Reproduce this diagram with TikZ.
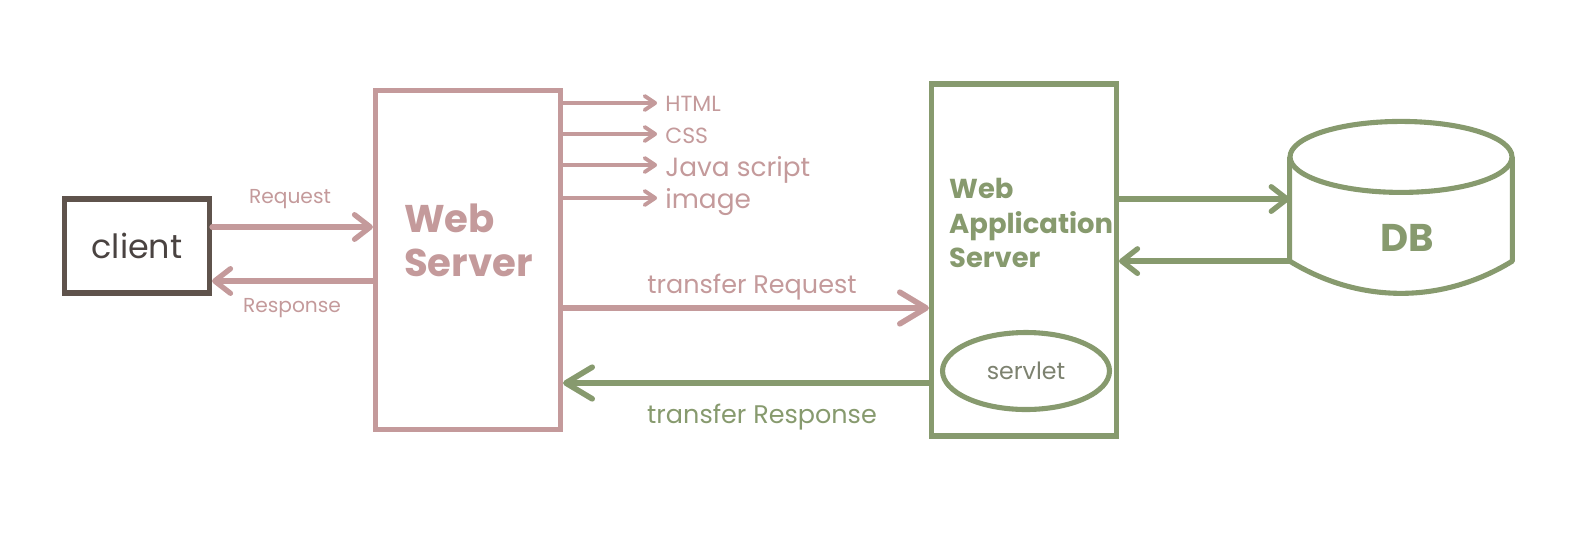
\documentclass[tikz,border=0pt]{standalone}
\usepackage{fontspec}
\setmainfont{Poppins}
\usepackage{xcolor}
\usetikzlibrary{arrows.meta,shapes.geometric,calc}
\definecolor{SrvPink}{HTML}{C49A9B}
\definecolor{AppGreen}{HTML}{879A6E}
\definecolor{CliBrown}{HTML}{5F534C}
\definecolor{CliText}{HTML}{4A4341}
\definecolor{LetGray}{HTML}{7D8270}
\newcommand{\setsz}[2]{\fontsize{#1}{#2}\selectfont}

\begin{document}
\begin{tikzpicture}[x=0.02cm,y=-0.02cm,
  box/.style={draw,line width=2.9pt,inner sep=0pt},
  link/.style={line width=3pt,line cap=round,-{Straight Barb[length=9pt,width=14pt,round]}},
  biglink/.style={line width=3.2pt,line cap=round,-{Straight Barb[length=15pt,width=18pt,round]}},
  smalllink/.style={line width=2.2pt,line cap=round,-{Straight Barb[length=6pt,width=8pt,round]},shorten >=4.5pt},
  lbl/.style={anchor=base,inner sep=0pt},
  item/.style={anchor=base west,inner sep=0pt,text=SrvPink}]

\useasboundingbox (0,0) rectangle (1592,542);

% ================= the boxes =================
\node[box,draw=CliBrown,text=CliText,minimum width=2.9cm,minimum height=1.88cm,
  font=\setsz{19}{23}] (client) at (137,246) {client};
\node[box,draw=SrvPink,minimum width=3.7cm,minimum height=6.78cm] (web) at (468,260) {};
\node[anchor=west,align=left,text=SrvPink,font=\bfseries\setsz{22}{25}] (webtxt)
  at (398,240) {Web\\Server};
\node[box,draw=AppGreen,minimum width=3.7cm,minimum height=7.04cm] (was) at (1024,260) {};
\node[anchor=west,align=left,text=AppGreen,font=\bfseries\setsz{15.6}{19.6}] (wastxt)
  at (943,223) {Web\\Application\\Server};
\node[ellipse,draw=AppGreen,line width=2.9pt,inner sep=0pt,minimum width=3.34cm,
  minimum height=1.54cm,text=LetGray,font=\setsz{13.5}{16}] (servlet) at (1026,371) {servlet};

% DB drum
\node[inner sep=0pt,minimum width=4.44cm,minimum height=2.07cm] (db) at (1401,209) {};
\draw[AppGreen,line width=2.9pt] (db.north) ellipse [x radius=2.22cm,y radius=0.71cm];
\draw[AppGreen,line width=2.9pt,line join=round] (db.north west) -- (db.south west)
  .. controls ($(db.south west)+(70,43)$) and ($(db.south east)+(-70,43)$) .. (db.south east)
  -- (db.north east);
\node[text=AppGreen,font=\bfseries\setsz{22}{26}] (dbtxt) at (1407,238) {DB};

% ================= labels =================
\node[lbl,text=SrvPink,font=\setsz{11.5}{14}] (reqlbl) at (290,203) {Request};
\node[lbl,text=SrvPink,font=\setsz{11.5}{14}] (reslbl) at (292,312) {Response};
\node[item,font=\setsz{12.5}{15}] (html) at (665,111) {HTML};
\node[item,font=\setsz{12.5}{15}] (css) at (665,143) {CSS};
\node[item,font=\setsz{15}{18}] (js) at (665,176) {Java script};
\node[item,font=\setsz{15}{18}] (img) at (665,208) {image};
\node[lbl,text=SrvPink,font=\setsz{14.5}{17}] (treq) at (752,293) {transfer Request};
\node[lbl,text=AppGreen,font=\setsz{14.5}{17}] (tres) at (762,423) {transfer Response};

% ================= connectors =================
\draw[link,SrvPink] (client.east |- 0,227) -- (web.west |- 0,227);
\draw[link,SrvPink] (web.west |- 0,281) -- (client.east |- 0,281);
\foreach \t/\y in {html/103,css/134,js/165,img/198}
  \draw[smalllink,SrvPink] (web.east |- 0,\y) -- (\t.west |- 0,\y);
\draw[biglink,SrvPink] (web.east |- 0,308) -- (was.west |- 0,308);
\draw[biglink,AppGreen] (was.west |- 0,383) -- (web.east |- 0,383);
\draw[link,AppGreen] (was.east |- 0,199) -- (db.west |- 0,199);
\draw[link,AppGreen] (db.south west) -- (was.east |- db.south west);
\end{tikzpicture}
\end{document}
